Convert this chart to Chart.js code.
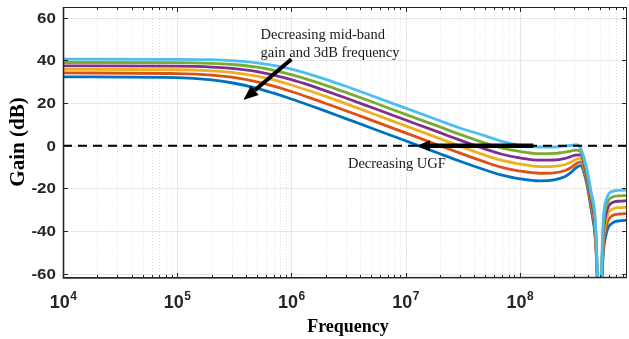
<!DOCTYPE html>
<html>
<head>
<meta charset="utf-8">
<script src="https://cdn.jsdelivr.net/npm/chart.js@4/dist/chart.umd.min.js"></script>
<style>
  html, body { margin: 0; padding: 0; background: #fff; }
  canvas { display: block; }
</style>
</head>
<body>
<canvas id="gainChart" width="629" height="339"></canvas>
<script>
// frequency points (Hz) shared by every curve
const freqHz = [1e4, 1e5, 2e5, 3e5, 5e5, 7e5, 1e6, 1.5e6, 2e6, 3e6, 5e6, 1e7,
  2e7, 3e7, 5e7, 7e7, 1e8, 1.5e8, 2e8, 2.5e8, 2.8e8, 3.1e8, 3.4e8, 3.8e8,
  4.2e8, 4.6e8, 5e8, 5.4e8, 5.8e8, 6.5e8, 7.5e8, 8.7e8];

// gain (dB), highest mid-band gain first
const gainLightBlue = [40.6, 40.5, 40.3, 39.9, 38.85, 37.65, 35.85, 33.2, 31.1, 27.85, 23.55, 17.6,
  11.7, 8.3, 4.6, 2.0, 0.2, -0.6, -0.6, -0.2, 0.2, 0.5, -1.0, -9, -21, -35, -80, -34, -24.5, -21.4, -20.9, -20.8];
const gainGreen = [39.0, 38.9, 38.55, 38.05, 36.8, 35.35, 33.3, 30.5, 28.3, 25.0, 20.7, 14.7,
  8.8, 5.3, 1.2, -1.1, -2.7, -3.7, -3.6, -3.0, -2.5, -2.1, -2.6, -11, -23, -37, -80, -37.5, -27.5, -24.1, -23.5, -23.4];
const gainPurple = [37.4, 37.25, 36.85, 36.2, 34.7, 33.1, 30.95, 28.0, 25.7, 22.35, 18.0, 12.05,
  6.1, 2.6, -1.6, -4.0, -5.7, -6.8, -6.7, -5.9, -5.1, -4.4, -4.3, -12.5, -25, -39, -80, -41, -30.5, -26.6, -26.0, -25.8];
const gainYellow = [35.8, 35.6, 35.1, 34.35, 32.55, 30.8, 28.45, 25.4, 23.1, 19.7, 15.3, 9.3,
  3.3, -0.2, -4.5, -6.9, -8.6, -9.8, -9.7, -8.8, -7.8, -6.5, -5.9, -13.5, -26, -40, -80, -44, -33.5, -29.7, -29.0, -28.8];
const gainOrange = [34.1, 33.8, 33.1, 32.1, 29.9, 27.9, 25.4, 22.2, 19.8, 16.4, 12.0, 6.0,
  0.0, -3.5, -7.7, -10.2, -11.9, -12.9, -12.7, -11.6, -10.3, -8.6, -7.6, -14.8, -27.5, -42, -80, -47, -36.8, -32.7, -32.0, -31.8];
const gainBlue = [32.3, 31.9, 30.85, 29.5, 26.9, 24.6, 21.9, 18.6, 16.2, 12.7, 8.3, 2.3,
  -3.8, -7.3, -11.4, -13.8, -15.5, -16.5, -16.0, -14.4, -12.6, -10.4, -9.3, -16, -29, -44, -80, -50, -40, -36.2, -35.2, -35.0];

// axis ticks
const xDecades = [1e4, 1e5, 1e6, 1e7, 1e8];
const xExponents = ['4', '5', '6', '7', '8'];
const yTicks = [60, 40, 20, 0, -20, -40, -60];
const yTickLabels = ['60', '40', '20', '0', '-20', '-40', '-60'];

const curves = [
  { values: gainLightBlue, color: '#4DBEEE' },
  { values: gainGreen, color: '#77AC30' },
  { values: gainPurple, color: '#7E2F8E' },
  { values: gainYellow, color: '#EDB120' },
  { values: gainOrange, color: '#D95319' },
  { values: gainBlue, color: '#0072BD' }
];

function minorTicks() {
  const out = [];
  for (let d = 1e4; d < 1e9; d *= 10) {
    for (let m = 2; m <= 9; m++) {
      if (d * m <= 8.7e8) out.push(d * m);
    }
  }
  return out;
}

const datasets = curves.map((c, i) => ({
  data: freqHz.map((f, k) => ({ x: f, y: c.values[k] })),
  borderColor: c.color,
  borderWidth: 2.8,
  pointRadius: 0,
  cubicInterpolationMode: 'monotone',
  fill: false,
  order: i + 1
}));

// 0 dB reference
datasets.push({
  data: [{ x: 1e4, y: 0 }, { x: 8.7e8, y: 0 }],
  borderColor: '#000',
  borderWidth: 2,
  borderDash: [9, 6],
  pointRadius: 0,
  fill: false,
  order: 0
});

function arrow(ctx, x1, y1, x2, y2, w, headLen, headW) {
  const a = Math.atan2(y2 - y1, x2 - x1);
  const bx = x2 - headLen * Math.cos(a), by = y2 - headLen * Math.sin(a);
  ctx.save();
  ctx.strokeStyle = '#000';
  ctx.fillStyle = '#000';
  ctx.lineWidth = w;
  ctx.lineCap = 'butt';
  ctx.beginPath();
  ctx.moveTo(x1, y1);
  ctx.lineTo(bx, by);
  ctx.stroke();
  ctx.beginPath();
  ctx.moveTo(x2, y2);
  ctx.lineTo(bx + headW / 2 * Math.sin(a), by - headW / 2 * Math.cos(a));
  ctx.lineTo(bx - headW / 2 * Math.sin(a), by + headW / 2 * Math.cos(a));
  ctx.closePath();
  ctx.fill();
  ctx.restore();
}

const matlabAxes = {
  id: 'matlabAxes',
  beforeDatasetsDraw(chart) {
    const { ctx, chartArea: a, scales: { x, y } } = chart;
    ctx.save();
    // minor vertical grid
    ctx.strokeStyle = '#e2e2e2';
    ctx.lineWidth = 1;
    ctx.setLineDash([1, 2]);
    minorTicks().forEach(v => {
      const px = Math.round(x.getPixelForValue(v)) + 0.5;
      ctx.beginPath(); ctx.moveTo(px, a.top); ctx.lineTo(px, a.bottom); ctx.stroke();
    });
    ctx.setLineDash([]);
    ctx.strokeStyle = '#e6e6e6';
    xDecades.forEach(v => {
      const px = Math.round(x.getPixelForValue(v)) + 0.5;
      ctx.beginPath(); ctx.moveTo(px, a.top); ctx.lineTo(px, a.bottom); ctx.stroke();
    });
    yTicks.forEach(v => {
      const py = Math.round(y.getPixelForValue(v)) + 0.5;
      ctx.beginPath(); ctx.moveTo(a.left, py); ctx.lineTo(a.right, py); ctx.stroke();
    });
    ctx.restore();
  },
  afterDatasetsDraw(chart) {
    const { ctx, chartArea: a, scales: { x, y } } = chart;
    ctx.save();
    // box
    ctx.strokeStyle = '#262626';
    ctx.lineWidth = 1;
    ctx.strokeRect(a.left + 0.5, a.top + 0.5, a.right - a.left - 1, a.bottom - a.top - 1);
    ctx.lineWidth = 1.6;
    ctx.beginPath();
    ctx.moveTo(a.left + 0.5, a.top); ctx.lineTo(a.left + 0.5, a.bottom);
    ctx.lineTo(a.right, a.bottom - 0.5);
    ctx.stroke();
    // inward ticks
    ctx.lineWidth = 1;
    const tick = (x1, y1, x2, y2) => { ctx.beginPath(); ctx.moveTo(x1, y1); ctx.lineTo(x2, y2); ctx.stroke(); };
    xDecades.forEach(v => {
      const px = Math.round(x.getPixelForValue(v)) + 0.5;
      tick(px, a.bottom, px, a.bottom - 5);
      tick(px, a.top, px, a.top + 5);
    });
    minorTicks().forEach(v => {
      const px = Math.round(x.getPixelForValue(v)) + 0.5;
      tick(px, a.bottom, px, a.bottom - 3);
      tick(px, a.top, px, a.top + 3);
    });
    yTicks.forEach(v => {
      const py = Math.round(y.getPixelForValue(v)) + 0.5;
      tick(a.left, py, a.left + 5, py);
      tick(a.right, py, a.right - 5, py);
    });

    // tick labels
    ctx.fillStyle = '#262626';
    ctx.textAlign = 'right';
    ctx.textBaseline = 'middle';
    yTicks.forEach((v, i) => {
      const py = y.getPixelForValue(v);
      ctx.save();
      ctx.translate(a.left - 7, py + 1);
      ctx.scale(1, 0.85);
      ctx.font = 'bold 17px "Liberation Sans", Arial, sans-serif';
      ctx.fillText(yTickLabels[i], 0, 0);
      ctx.restore();
    });
    ctx.textBaseline = 'alphabetic';
    ctx.textAlign = 'left';
    xDecades.forEach((v, i) => {
      const px = x.getPixelForValue(v);
      ctx.font = 'bold 18px "Liberation Sans", Arial, sans-serif';
      const w1 = ctx.measureText('10').width;
      ctx.font = 'bold 12px "Liberation Sans", Arial, sans-serif';
      const w2 = ctx.measureText(xExponents[i]).width;
      const left = px - (w1 + w2) / 2;
      ctx.font = 'bold 18px "Liberation Sans", Arial, sans-serif';
      ctx.fillText('10', left, 308);
      ctx.font = 'bold 12px "Liberation Sans", Arial, sans-serif';
      ctx.fillText(xExponents[i], left + w1 + 0.5, 300);
    });

    // axis titles
    ctx.fillStyle = '#000';
    ctx.textAlign = 'center';
    ctx.font = 'bold 18px "Liberation Serif", "Times New Roman", serif';
    ctx.fillText('Frequency', 348, 332);
    ctx.save();
    ctx.translate(24, 142);
    ctx.rotate(-Math.PI / 2);
    ctx.font = 'bold 21px "Liberation Serif", "Times New Roman", serif';
    ctx.fillText('Gain (dB)', 0, 0);
    ctx.restore();

    // annotations
    arrow(ctx, x.getPixelForValue(1.0e6), y.getPixelForValue(40.5),
      x.getPixelForValue(3.8e5), y.getPixelForValue(21.4), 4, 15, 12);
    arrow(ctx, x.getPixelForValue(1.315e8), y.getPixelForValue(0),
      x.getPixelForValue(1.26e7), y.getPixelForValue(0), 4.5, 13, 11);

    ctx.fillStyle = '#1a1a1a';
    ctx.textAlign = 'left';
    ctx.font = '14.5px "Liberation Serif", "Times New Roman", serif';
    ctx.fillText('Decreasing mid-band', x.getPixelForValue(5.38e5), y.getPixelForValue(49.9));
    ctx.fillText('gain and 3dB frequency', x.getPixelForValue(5.38e5), y.getPixelForValue(41.7));
    ctx.fillText('Decreasing UGF', x.getPixelForValue(3.13e6), y.getPixelForValue(-10.6));
    ctx.restore();
  }
};

new Chart(document.getElementById('gainChart').getContext('2d'), {
  type: 'line',
  data: { datasets },
  options: {
    responsive: false,
    animation: false,
    devicePixelRatio: 1,
    layout: { padding: { left: 63, top: 7, right: 2, bottom: 61 } },
    plugins: { legend: { display: false }, tooltip: { enabled: false } },
    scales: {
      x: { type: 'logarithmic', min: 1e4, max: 8.7e8, display: false },
      y: { type: 'linear', min: -62, max: 65, display: false }
    }
  },
  plugins: [matlabAxes]
});
</script>
</body>
</html>
